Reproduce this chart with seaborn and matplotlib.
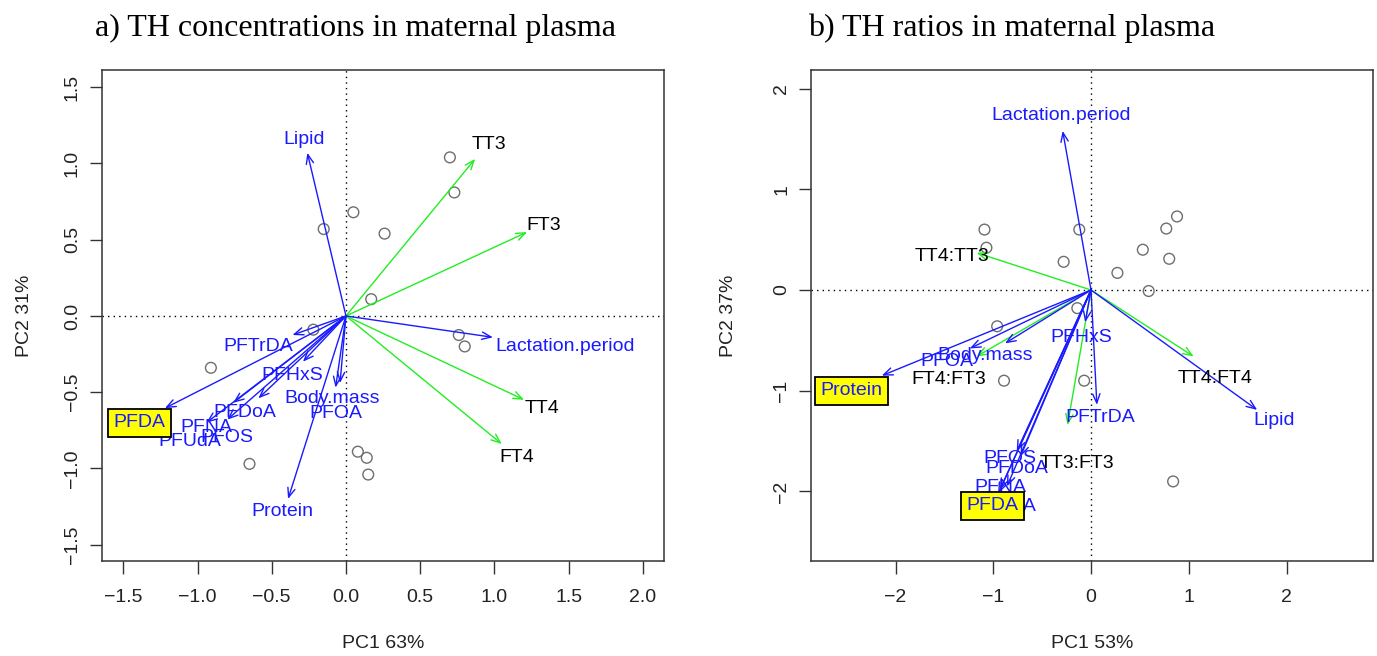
import numpy as np
import pandas as pd
import matplotlib
matplotlib.use("Agg")
import matplotlib.pyplot as plt
import seaborn as sns

# ---------------- Panel a: TH concentrations ----------------
a_obs_x = [0.70, 0.73, 0.05, 0.26, -0.15, 0.17, -0.22, 0.76, 0.80, -0.91, -0.65, 0.08, 0.14, 0.15]
a_obs_y = [1.04, 0.81, 0.68, 0.54, 0.57, 0.11, -0.09, -0.125, -0.20, -0.34, -0.97, -0.89, -0.93, -1.04]
a_vars = ["TT3", "FT3", "TT4", "FT4", "Lipid", "Lactation.period", "PFTrDA", "PFHxS",
          "Body.mass", "PFOA", "PFDoA", "PFNA", "PFOS", "PFUdA", "Protein", "PFDA"]
a_load_x = [0.87, 1.22, 1.20, 1.05, -0.26, 0.99, -0.36, -0.29, -0.07, -0.04, -0.59, -0.80, -0.76, -0.94, -0.39, -1.22]
a_load_y = [1.03, 0.55, -0.55, -0.84, 1.07, -0.14, -0.125, -0.30, -0.47, -0.44, -0.54, -0.68, -0.57, -0.70, -1.20, -0.605]
a_lab_x = [0.96, 1.33, 1.32, 1.15, -0.28, 1.476, -0.59, -0.36, -0.09, -0.07, -0.68, -0.94, -0.80, -1.05, -0.43, -1.39]
a_lab_y = [1.125, 0.59, -0.605, -0.93, 1.16, -0.197, -0.20, -0.39, -0.54, -0.64, -0.63, -0.73, -0.80, -0.82, -1.28, -0.70]
a_th = ["TT3", "FT3", "TT4", "FT4"]
a_boxed = ["PFDA"]

# ---------------- Panel b: TH ratios ----------------
b_obs_x = [0.88, 0.77, 0.53, 0.80, 0.27, 0.59, -0.12, -0.28, -0.14, -0.07, -0.89, 0.84, -1.09, -1.07, -0.96]
b_obs_y = [0.73, 0.61, 0.40, 0.31, 0.17, -0.01, 0.60, 0.28, -0.18, -0.90, -0.90, -1.90, 0.60, 0.42, -0.36]
b_vars = ["TT4:TT3", "TT4:FT4", "FT4:FT3", "TT3:FT3", "Lactation.period", "Lipid", "PFTrDA", "PFHxS",
          "Body.mass", "PFOA", "Protein", "PFOS", "PFDoA", "PFNA", "PFUdA", "PFDA"]
b_load_x = [-1.17, 1.05, -1.17, -0.24, -0.29, 1.70, 0.06, -0.06, -0.88, -1.24, -2.14, -0.76, -0.72, -0.93, -0.86, -0.95]
b_load_y = [0.37, -0.66, -0.66, -1.34, 1.58, -1.19, -1.14, -0.32, -0.53, -0.58, -0.85, -1.60, -1.65, -1.98, -1.95, -2.02]
b_lab_x = [-1.42, 1.27, -1.46, -0.14, -0.31, 1.87, 0.09, -0.10, -1.08, -1.47, -2.45, -0.83, -0.76, -0.93, -0.88, -1.01]
b_lab_y = [0.33, -0.88, -0.89, -1.72, 1.73, -1.30, -1.27, -0.47, -0.65, -0.71, -1.00, -1.67, -1.77, -1.96, -2.15, -2.14]
b_th = ["TT4:TT3", "TT4:FT4", "FT4:FT3", "TT3:FT3"]
b_boxed = ["Protein", "PFDA"]

titles = ["a) TH concentrations in maternal plasma", "b) TH ratios in maternal plasma"]
xlabels = ["PC1 63%", "PC1 53%"]
ylabels = ["PC2 31%", "PC2 37%"]
a_xticks = [-1.5, -1.0, -0.5, 0.0, 0.5, 1.0, 1.5, 2.0]
a_yticks = [-1.5, -1.0, -0.5, 0.0, 0.5, 1.0, 1.5]
b_xticks = [-2, -1, 0, 1, 2]
b_yticks = [-2, -1, 0, 1, 2]

sns.set_theme(style="white")
plt.rcParams["font.family"] = ["Liberation Sans", "DejaVu Sans"]
plt.rcParams["axes.unicode_minus"] = True

fig = plt.figure(figsize=(13.77, 6.56), dpi=100)
axA = fig.add_axes([0.0739, 0.1448, 0.4086, 0.7485])
axB = fig.add_axes([0.5890, 0.1448, 0.4079, 0.7485])

BLUE = "#1a1aff"
GREEN = "#22ee22"


def panel(ax, ox, oy, names, lx, ly, tx, ty, th, boxed, xlim, ylim, xt, yt, xfmt):
    df = pd.DataFrame({"x": ox, "y": oy})
    sns.scatterplot(data=df, x="x", y="y", ax=ax, s=60, marker="o", linewidth=1.0, zorder=2)
    coll = ax.collections[-1]
    coll.set_facecolor("none")
    coll.set_edgecolor("#6e6e6e")
    ax.axhline(0, color="black", lw=1, ls=(0, (1, 3)), zorder=1)
    ax.axvline(0, color="black", lw=1, ls=(0, (1, 3)), zorder=1)
    for n, x, y in zip(names, lx, ly):
        c = GREEN if n in th else BLUE
        ax.annotate("", xy=(x, y), xytext=(0, 0),
                    arrowprops=dict(arrowstyle="->,head_length=0.55,head_width=0.22",
                                    color=c, lw=1.0, shrinkA=0, shrinkB=0, mutation_scale=12),
                    zorder=3)
    for n, x, y in zip(names, tx, ty):
        c = "black" if n in th else BLUE
        kw = {}
        if n in boxed:
            kw["bbox"] = dict(boxstyle="square,pad=0.28", fc="#ffff00", ec="black", lw=1.3)
        ax.text(x, y, n, color=c, fontsize=14, ha="center", va="center", zorder=5, **kw)
    ax.set_xlim(*xlim)
    ax.set_ylim(*ylim)
    ax.set_xticks(xt)
    ax.set_yticks(yt)
    ax.set_xticklabels([xfmt.format(v).replace("-", "\u2212") for v in xt])
    ax.set_yticklabels([xfmt.format(v).replace("-", "\u2212") for v in yt], rotation=90, va="center")
    ax.tick_params(axis="both", direction="out", length=9, width=1, color="#333333",
                   labelsize=14, labelcolor="#222222", bottom=True, left=True)
    ax.tick_params(axis="x", pad=11)
    ax.tick_params(axis="y", pad=6)
    for s in ax.spines.values():
        s.set_visible(True)
        s.set_color("#333333")
        s.set_linewidth(1.1)
    ax.set_xlabel("")
    ax.set_ylabel("")


panel(axA, a_obs_x, a_obs_y, a_vars, a_load_x, a_load_y, a_lab_x, a_lab_y, a_th, a_boxed,
      (-1.645, 2.145), (-1.607, 1.613), a_xticks, a_yticks, "{:.1f}")
panel(axB, b_obs_x, b_obs_y, b_vars, b_load_x, b_load_y, b_lab_x, b_lab_y, b_th, b_boxed,
      (-2.864, 2.882), (-2.69, 2.184), b_xticks, b_yticks, "{:d}")

# axis labels
axA.set_xlabel(xlabels[0], fontsize=14, labelpad=21, color="#222222")
axA.set_ylabel(ylabels[0], fontsize=14, labelpad=22, color="#222222")
axB.set_xlabel(xlabels[1], fontsize=14, labelpad=21, color="#222222")
axB.set_ylabel(ylabels[1], fontsize=14, labelpad=26, color="#222222")

fig.text(95 / 1377, 1 - 28 / 656, titles[0], family=["Liberation Serif", "DejaVu Serif"],
         fontsize=23, ha="left", va="center", color="black")
fig.text(808 / 1377, 1 - 28 / 656, titles[1], family=["Liberation Serif", "DejaVu Serif"],
         fontsize=23, ha="left", va="center", color="black")

fig.savefig("out.png", dpi=100)
